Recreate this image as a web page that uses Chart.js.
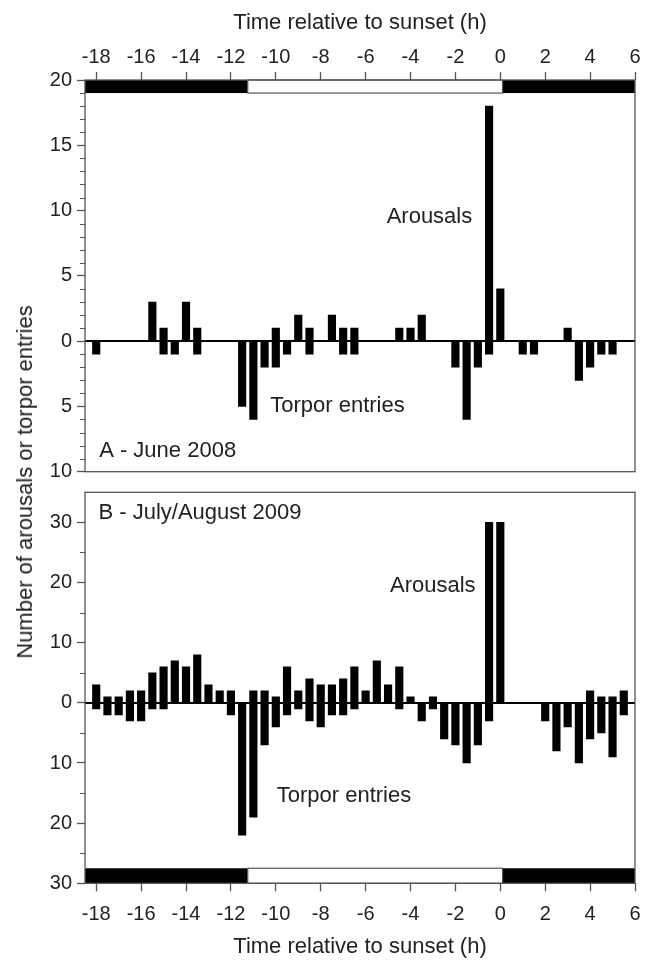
<!DOCTYPE html>
<html><head><meta charset="utf-8">
<script src="https://cdn.jsdelivr.net/npm/chart.js@4.4.1/dist/chart.umd.min.js"></script>
<style>
html,body{margin:0;padding:0;background:#fff;}
#wrap{position:relative;width:652px;height:960px;overflow:hidden;background:#fff;}
#cA{position:absolute;left:0;top:0;width:652px;height:500px;}
#cB{position:absolute;left:0;top:470px;width:652px;height:490px;}
#ytitle{position:absolute;left:25px;top:482px;transform:translate(-50%,-50%) rotate(-90deg);font:22px "Liberation Sans",Arial,sans-serif;color:#222;white-space:nowrap;}
</style></head>
<body><div id="wrap">
<canvas id="cA" width="652" height="500"></canvas>
<canvas id="cB" width="652" height="490"></canvas>
<div id="ytitle">Number of arousals or torpor entries</div>
</div>
<script>
// Half-hour bins (h relative to sunset)
const timeBins = [-18,-17.5,-17,-16.5,-16,-15.5,-15,-14.5,-14,-13.5,-13,-12.5,-12,-11.5,-11,-10.5,-10,-9.5,-9,-8.5,-8,-7.5,-7,-6.5,-6,-5.5,-5,-4.5,-4,-3.5,-3,-2.5,-2,-1.5,-1,-0.5,0,0.5,1,1.5,2,2.5,3,3.5,4,4.5,5,5.5];
// Panel A - June 2008
const arousalsA = [0,0,0,0,0,3,1,0,3,1, 0,0,0,0,0,0,1,0,2,1, 0,2,1,1,0,0,0,1,1,2, 0,0,0,0,0,18,4,0,0,0, 0,0,1,0,0,0,0,0];
const torporA   = [1,0,0,0,0,0,1,1,0,1, 0,0,0,5,6,2,2,1,0,1, 0,0,1,1,0,0,0,0,0,0, 0,0,2,6,2,1,0,0,1,1, 0,0,0,3,2,1,1,0];
// Panel B - July/August 2009
const arousalsB = [3,1,1,2,2,5,6,7,6,8, 3,2,2,0,2,2,1,6,2,4, 3,3,4,6,2,7,3,6,1,0, 1,0,0,0,0,30,30,0,0,0, 0,0,0,0,2,1,1,2];
const torporB   = [1,2,2,3,3,1,1,0,0,0, 0,0,2,22,19,7,4,2,1,3, 4,2,2,1,0,0,0,1,0,3, 1,6,7,10,7,3,0,0,0,0, 3,8,4,10,6,5,9,2];
// Tick labels
const xTicks  = [-18,-16,-14,-12,-10,-8,-6,-4,-2,0,2,4,6];
const yTicksA = [-10,-5,0,5,10,15,20];
const yTicksB = [-30,-20,-10,0,10,20,30];
// Light period (sunrise to sunset), h relative to sunset
const lightPeriod = [-11.25, 0.1];

const FONT = '"Liberation Sans", Arial, sans-serif';

function panelPlugin(o){
  return {
    id: 'panel' + o.name,
    afterDatasetsDraw(chart){
      const {ctx, chartArea:a, scales:{x, y}} = chart;
      ctx.save();
      // zero line
      const pz = Math.round(y.getPixelForValue(0));
      ctx.fillStyle = '#000';
      ctx.fillRect(a.left, pz - 1, a.right - a.left, 2);
      // light/dark band
      const yb0 = y.getPixelForValue(o.band[0]), yb1 = y.getPixelForValue(o.band[1]);
      const top = Math.min(yb0, yb1), h = Math.abs(yb1 - yb0);
      const xl = x.getPixelForValue(x.min), xr = x.getPixelForValue(x.max);
      const xd0 = x.getPixelForValue(lightPeriod[0]), xd1 = x.getPixelForValue(lightPeriod[1]);
      ctx.fillStyle = '#000';
      ctx.fillRect(xl, top, xd0 - xl, h);
      ctx.fillRect(xd1, top, xr - xd1, h);
      ctx.fillStyle = '#fff';
      ctx.fillRect(xd0, top, xd1 - xd0, h);
      ctx.strokeStyle = '#555'; ctx.lineWidth = 1.2;
      ctx.strokeRect(xd0, top, xd1 - xd0, h);
      // frame
      ctx.strokeStyle = '#555'; ctx.lineWidth = 1.3;
      ctx.strokeRect(a.left, a.top, a.right - a.left, a.bottom - a.top);
      // minor y ticks
      ctx.beginPath();
      for (let v = o.ymin; v <= o.ymax; v += o.minorStep) {
        if (o.yTicks.includes(v) || v === o.ymin || v === o.ymax) continue;
        const py = Math.round(y.getPixelForValue(v)) + 0.5;
        ctx.moveTo(a.left - 5, py); ctx.lineTo(a.left, py);
      }
      ctx.lineWidth = 1.2; ctx.stroke();
      // annotations
      ctx.fillStyle = '#222'; ctx.font = '22px ' + FONT; ctx.textBaseline = 'middle';
      for (const t of o.texts) {
        ctx.textAlign = t.align;
        ctx.fillText(t.text, x.getPixelForValue(t.x), y.getPixelForValue(t.y));
      }
      ctx.restore();
    }
  };
}

function makeChart(id, o){
  return new Chart(document.getElementById(id), {
    type: 'bar',
    data: { datasets: [
      { data: timeBins.map((t, i) => ({x: t, y: o.arousals[i]})), backgroundColor: '#000', barThickness: 7.5, grouped: false },
      { data: timeBins.map((t, i) => ({x: t, y: -o.torpor[i]})), backgroundColor: '#000', barThickness: 7.5, grouped: false }
    ]},
    options: {
      responsive: false, animation: false, devicePixelRatio: 1,
      layout: { padding: o.padding },
      plugins: { legend: {display: false}, tooltip: {enabled: false} },
      scales: {
        x: {
          type: 'linear', position: o.xPos, min: -18.5, max: 6, offset: false,
          afterBuildTicks(s){ s.ticks = xTicks.map(v => ({value: v})); },
          afterFit(s){ s.height = o.xHeight; },
          grid: { offset: false, drawOnChartArea: false, drawTicks: true, tickLength: 8, tickColor: '#555', tickWidth: 1.3 },
          border: { display: false },
          ticks: { font: {size: 20, family: FONT}, color: '#222', padding: o.xPad, maxRotation: 0, autoSkip: false },
          title: { display: true, text: 'Time relative to sunset (h)', font: {size: 22, family: FONT}, color: '#222', padding: o.titlePad }
        },
        y: {
          type: 'linear', min: o.ymin, max: o.ymax,
          afterBuildTicks(s){ s.ticks = o.yTicks.map(v => ({value: v})); },
          afterFit(s){ s.width = 85; },
          grid: { drawOnChartArea: false, drawTicks: true, tickLength: 8, tickColor: '#555', tickWidth: 1.3 },
          border: { display: false },
          ticks: { font: {size: 20, family: FONT}, color: '#222', padding: 5, callback: v => String(Math.abs(v)) }
        }
      }
    },
    plugins: [panelPlugin(o)]
  });
}

makeChart('cA', {
  name: 'A', arousals: arousalsA, torpor: torporA,
  ymin: -10, ymax: 20, yTicks: yTicksA, minorStep: 1, band: [19, 20],
  padding: {top: 0, left: 0, right: 17, bottom: 28.3},
  xPos: 'top', xHeight: 80, xPad: 3, titlePad: {top: 10, bottom: 0},
  texts: [
    {text: 'Arousals', x: -1.25, y: 9.5, align: 'right'},
    {text: 'Torpor entries', x: -10.25, y: -5, align: 'left'},
    {text: 'A - June 2008', x: -17.87, y: -8.4, align: 'left'}
  ]
});
makeChart('cB', {
  name: 'B', arousals: arousalsB, torpor: torporB,
  ymin: -30, ymax: 35, yTicks: yTicksB, minorStep: 5, band: [-30, -27.5],
  padding: {top: 22.3, left: 0, right: 17, bottom: 0},
  xPos: 'bottom', xHeight: 76.7, xPad: 11, titlePad: {top: 0, bottom: 0},
  texts: [
    {text: 'B - July/August 2009', x: -17.9, y: 31.6, align: 'left'},
    {text: 'Arousals', x: -1.1, y: 19.5, align: 'right'},
    {text: 'Torpor entries', x: -9.96, y: -15.5, align: 'left'}
  ]
});
</script>
</body></html>
